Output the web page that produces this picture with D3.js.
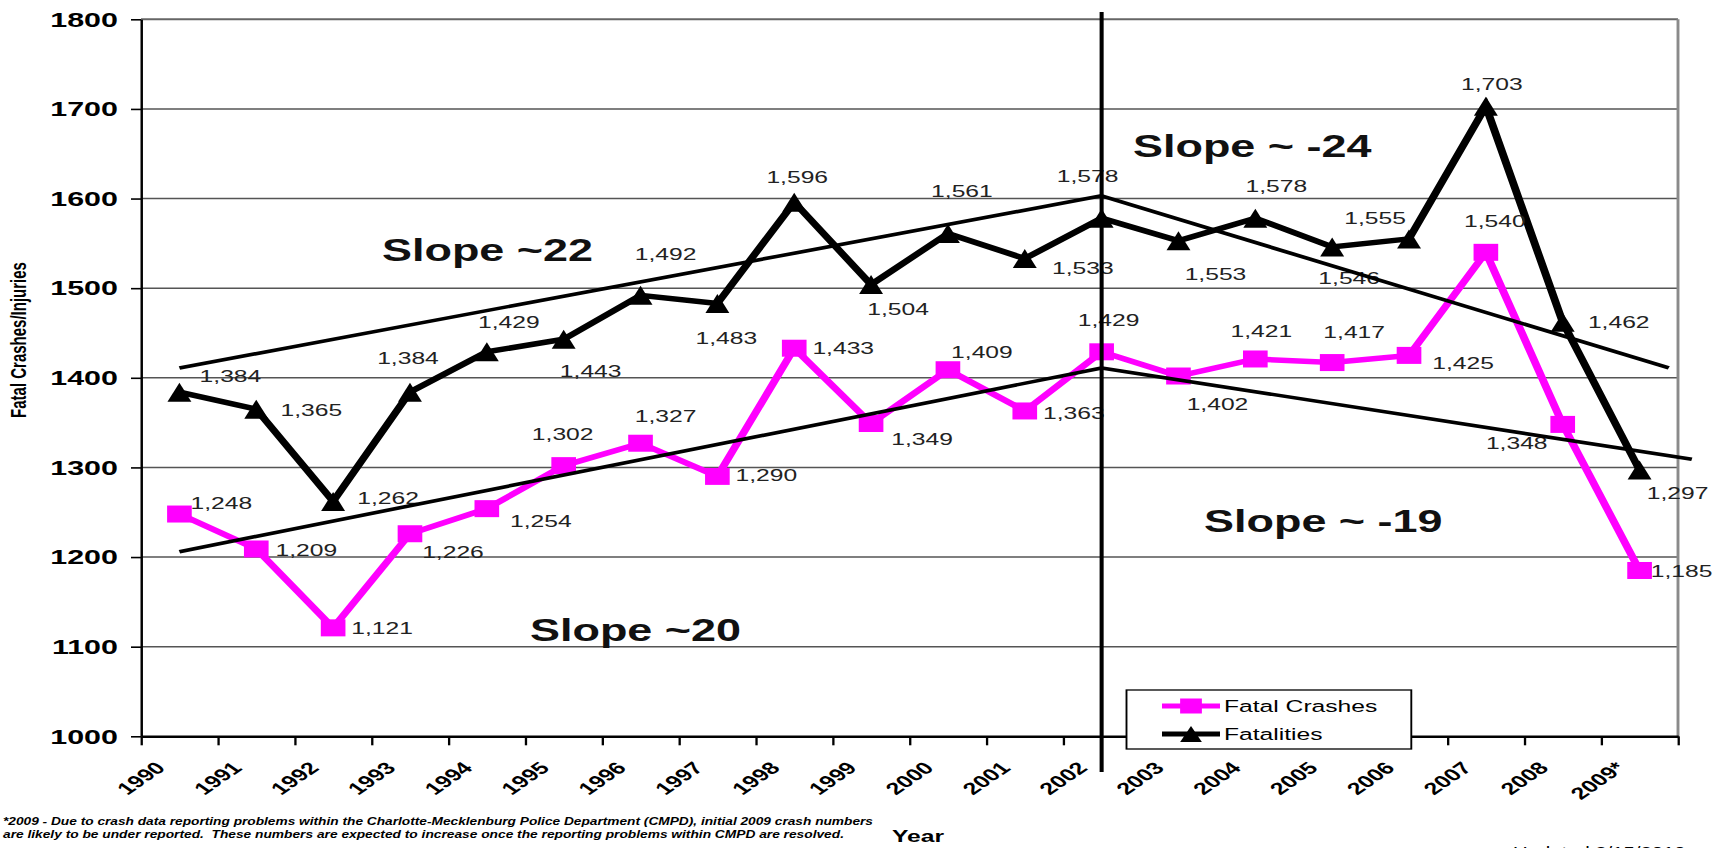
<!DOCTYPE html>
<html>
<head>
<meta charset="utf-8">
<script src="https://cdn.jsdelivr.net/npm/d3@7"></script>
<style>
body { margin: 0; background: #fff; }
text { font-family: Arial, "Liberation Sans", sans-serif; }
</style>
</head>
<body>
<script>
// Data
var years = ["1990", "1991", "1992", "1993", "1994", "1995", "1996", "1997", "1998", "1999",
	"2000", "2001", "2002", "2003", "2004", "2005", "2006", "2007", "2008", "2009*"];
var fatalCrashes = [1248, 1209, 1121, 1226, 1254, 1302, 1327, 1290, 1433, 1349,
	1409, 1363, 1429, 1402, 1421, 1417, 1425, 1540, 1348, 1185];
var fatalities = [1384, 1365, 1262, 1384, 1429, 1443, 1492, 1483, 1596, 1504,
	1561, 1533, 1578, 1553, 1578, 1546, 1555, 1703, 1462, 1297];
var yTicks = [1000, 1100, 1200, 1300, 1400, 1500, 1600, 1700, 1800];

// trend lines drawn on the chart: category index from/to, value at each end
var trendFrom = [0, 0, 12, 12];
var trendTo = [12, 12, 19.38, 19.68];
var trendStart = [1206, 1411, 1603, 1411];
var trendEnd = [1411, 1603, 1411, 1309];

var slopeText = ["Slope ~22", "Slope ~20", "Slope ~ -24", "Slope ~ -19"];

// Layout (page pixels) -- label placement as hand-positioned in the original
var crashLabelPos = [[42, -11], [50, 1], [49, 0], [43, 18], [54, 12], [-1, -32], [25, -27], [49, -1], [49, 0], [51, 15],
	[34, -18], [49, 2], [7, -32], [39, 28], [6, -28], [22, -31], [54, 8], [9, -31], [-46, 19], [42, 0]];
var fatalLabelPos = [[51, -16], [55, 1], [55, -3], [-2, -34], [22, -30], [27, 32], [25, -41], [9, 35], [3, -25], [27, 24],
	[14, -43], [58, 9], [-14, -42], [37, 33], [21, -32], [17, 31], [-34, -21], [6, -22], [56, 0], [38, 23]];
var slopePos = [[382, 261], [530, 641], [1133, 157], [1204, 532]];

var SX = 1.45;   // the original picture is stretched sideways
var width = 1722, height = 848;
var plotLeft = 141 / SX, plotRight = 1678 / SX, plotTop = 19.3, plotBottom = 736.3;

var svg = d3.select("body").append("svg")
	.attr("width", width)
	.attr("height", height);

var g = svg.append("g").attr("transform", "scale(" + SX + ",1)");

var x = d3.scaleLinear().domain([-0.5, years.length - 0.5]).range([plotLeft, plotRight]);
var y = d3.scaleLinear().domain([1000, 1800]).range([plotBottom, plotTop]);
var fmt = d3.format(",");

// gridlines
g.selectAll("line.grid")
	.data(yTicks.filter(function(d) { return d > 1000; }))
	.enter()
	.append("line")
	.attr("class", "grid")
	.attr("x1", plotLeft).attr("x2", plotRight)
	.attr("y1", function(d) { return y(d); })
	.attr("y2", function(d) { return y(d); })
	.attr("stroke", function(d) { return d === 1800 ? "#666" : "#555"; })
	.attr("stroke-width", function(d) { return d === 1800 ? 2 : 1.4; });

// right border
g.append("line")
	.attr("x1", plotRight).attr("x2", plotRight)
	.attr("y1", plotTop).attr("y2", plotBottom)
	.attr("stroke", "#8a8a8a")
	.attr("stroke-width", 2);

// y axis
var yAxis = g.append("g")
	.attr("transform", "translate(" + plotLeft + ",0)")
	.call(d3.axisLeft(y).tickValues(yTicks).tickSize(10 / SX).tickSizeOuter(0).tickPadding(9)
		.tickFormat(d3.format("d")));
yAxis.select(".domain").attr("stroke", "#000").attr("stroke-width", 1.7);
yAxis.selectAll(".tick line").attr("stroke", "#000").attr("stroke-width", 1.6);
yAxis.selectAll(".tick text")
	.attr("font-size", 21)
	.attr("font-weight", "bold")
	.attr("fill", "#000")
	.style("font-family", "Arial, 'Liberation Sans', sans-serif");

// x axis: ticks sit between categories
var xAxis = g.append("g")
	.attr("transform", "translate(0," + plotBottom + ")")
	.call(d3.axisBottom(x).tickValues(d3.range(-0.5, years.length, 1)).tickSize(9).tickSizeOuter(0)
		.tickFormat(""));
xAxis.select(".domain").attr("stroke", "#000").attr("stroke-width", 2.5);
xAxis.selectAll(".tick line").attr("stroke", "#000").attr("stroke-width", 1.6);

g.selectAll("text.xlab")
	.data(years)
	.enter()
	.append("text")
	.attr("class", "xlab")
	.attr("transform", function(d, i) { return "translate(" + (x(i) - 9) + ",769) rotate(-45)"; })
	.attr("text-anchor", "end")
	.attr("font-size", 17)
	.attr("font-weight", "bold")
	.text(function(d) { return d; });

// y axis title
g.append("text")
	.attr("transform", "translate(" + (26 / SX) + ",340) rotate(-90)")
	.attr("text-anchor", "middle")
	.attr("font-size", 15)
	.attr("font-weight", "bold")
	.text("Fatal Crashes/Injuries");

// series lines
var line = d3.line()
	.x(function(d, i) { return x(i); })
	.y(function(d) { return y(d); });

g.append("path")
	.datum(fatalities)
	.attr("d", line)
	.attr("fill", "none")
	.attr("stroke", "#000")
	.attr("stroke-width", 5.5);

g.append("path")
	.datum(fatalCrashes)
	.attr("d", line)
	.attr("fill", "none")
	.attr("stroke", "#ff00ff")
	.attr("stroke-width", 5.5);

var sq = 17, triW = 16.5, triH = 19;
function triangle(cx, cy, w, h) {
	return "M" + cx + "," + (cy - h / 2) + "L" + (cx + w / 2) + "," + (cy + h / 2) +
		"L" + (cx - w / 2) + "," + (cy + h / 2) + "Z";
}

g.selectAll("path.tri")
	.data(fatalities)
	.enter()
	.append("path")
	.attr("class", "tri")
	.attr("d", function(d, i) { return triangle(x(i), y(d), triW, triH); })
	.attr("fill", "#000");

g.selectAll("rect.sq")
	.data(fatalCrashes)
	.enter()
	.append("rect")
	.attr("class", "sq")
	.attr("x", function(d, i) { return x(i) - sq / 2; })
	.attr("y", function(d) { return y(d) - sq / 2; })
	.attr("width", sq)
	.attr("height", sq)
	.attr("fill", "#ff00ff");

// data labels
function addLabels(values, pos, cls) {
	g.selectAll("text." + cls)
		.data(values)
		.enter()
		.append("text")
		.attr("class", cls)
		.attr("x", function(d, i) { return x(i) + pos[i][0] / SX; })
		.attr("y", function(d, i) { return y(d) + pos[i][1]; })
		.attr("text-anchor", "middle")
		.attr("dominant-baseline", "central")
		.attr("font-size", 17)
		.attr("fill", "#222")
		.text(function(d) { return fmt(d); });
}
addLabels(fatalities, fatalLabelPos, "flab");
addLabels(fatalCrashes, crashLabelPos, "clab");

// trend lines
g.selectAll("line.trend")
	.data(trendFrom)
	.enter()
	.append("line")
	.attr("class", "trend")
	.attr("x1", function(d) { return x(d); })
	.attr("x2", function(d, i) { return x(trendTo[i]); })
	.attr("y1", function(d, i) { return y(trendStart[i]); })
	.attr("y2", function(d, i) { return y(trendEnd[i]); })
	.attr("stroke", "#000")
	.attr("stroke-width", 3.6);

// 2002 divider
g.append("line")
	.attr("x1", x(12)).attr("x2", x(12))
	.attr("y1", 12).attr("y2", 772)
	.attr("stroke", "#000")
	.attr("stroke-width", 2.8);

g.selectAll("text.slope")
	.data(slopeText)
	.enter()
	.append("text")
	.attr("class", "slope")
	.attr("x", function(d, i) { return slopePos[i][0] / SX; })
	.attr("y", function(d, i) { return slopePos[i][1]; })
	.attr("font-size", 31)
	.attr("font-weight", "bold")
	.attr("fill", "#111")
	.text(function(d) { return d; });

// legend
var lg = g.append("g");
lg.append("rect")
	.attr("x", 1126.5 / SX).attr("y", 690)
	.attr("width", (1411.3 - 1126.5) / SX).attr("height", 59)
	.attr("fill", "#fff")
	.attr("stroke", "#000")
	.attr("stroke-width", 1.3);
var lx0 = 1162 / SX, lx1 = 1220 / SX, lcx = (lx0 + lx1) / 2;
[["Fatal Crashes", "#ff00ff", 706], ["Fatalities", "#000", 734]].forEach(function(e, k) {
	lg.append("line")
		.attr("x1", lx0).attr("x2", lx1)
		.attr("y1", e[2]).attr("y2", e[2])
		.attr("stroke", e[1]).attr("stroke-width", 5);
	if (k === 0) {
		lg.append("rect")
			.attr("x", lcx - 7.5).attr("y", e[2] - 7.5)
			.attr("width", 15).attr("height", 15)
			.attr("fill", e[1]);
	} else {
		lg.append("path").attr("d", triangle(lcx, e[2], 15, 16)).attr("fill", e[1]);
	}
	lg.append("text")
		.attr("x", 1224 / SX).attr("y", e[2])
		.attr("dominant-baseline", "central")
		.attr("font-size", 17)
		.text(e[0]);
});

// footnote and axis title
var notes = ["*2009 - Due to crash data reporting problems within the Charlotte-Mecklenburg Police Department (CMPD), initial 2009 crash numbers",
	"are likely to be under reported.  These numbers are expected to increase once the reporting problems within CMPD are resolved."];
var noteLen = [600, 580];
notes.forEach(function(t, k) {
	g.append("text")
		.attr("x", 3 / SX).attr("y", 825 + k * 13)
		.attr("font-size", 10)
		.attr("font-weight", "bold")
		.attr("font-style", "italic")
		.attr("textLength", noteLen[k])
		.attr("lengthAdjust", "spacingAndGlyphs")
		.attr("xml:space", "preserve")
		.text(t);
});

g.append("text")
	.attr("x", 918 / SX).attr("y", 842)
	.attr("text-anchor", "middle")
	.attr("font-size", 17)
	.attr("font-weight", "bold")
	.text("Year");

g.append("text")
	.attr("x", 1513 / SX).attr("y", 857)
	.attr("font-size", 14)
	.text("Updated 2/15/2010");
</script>
</body>
</html>
